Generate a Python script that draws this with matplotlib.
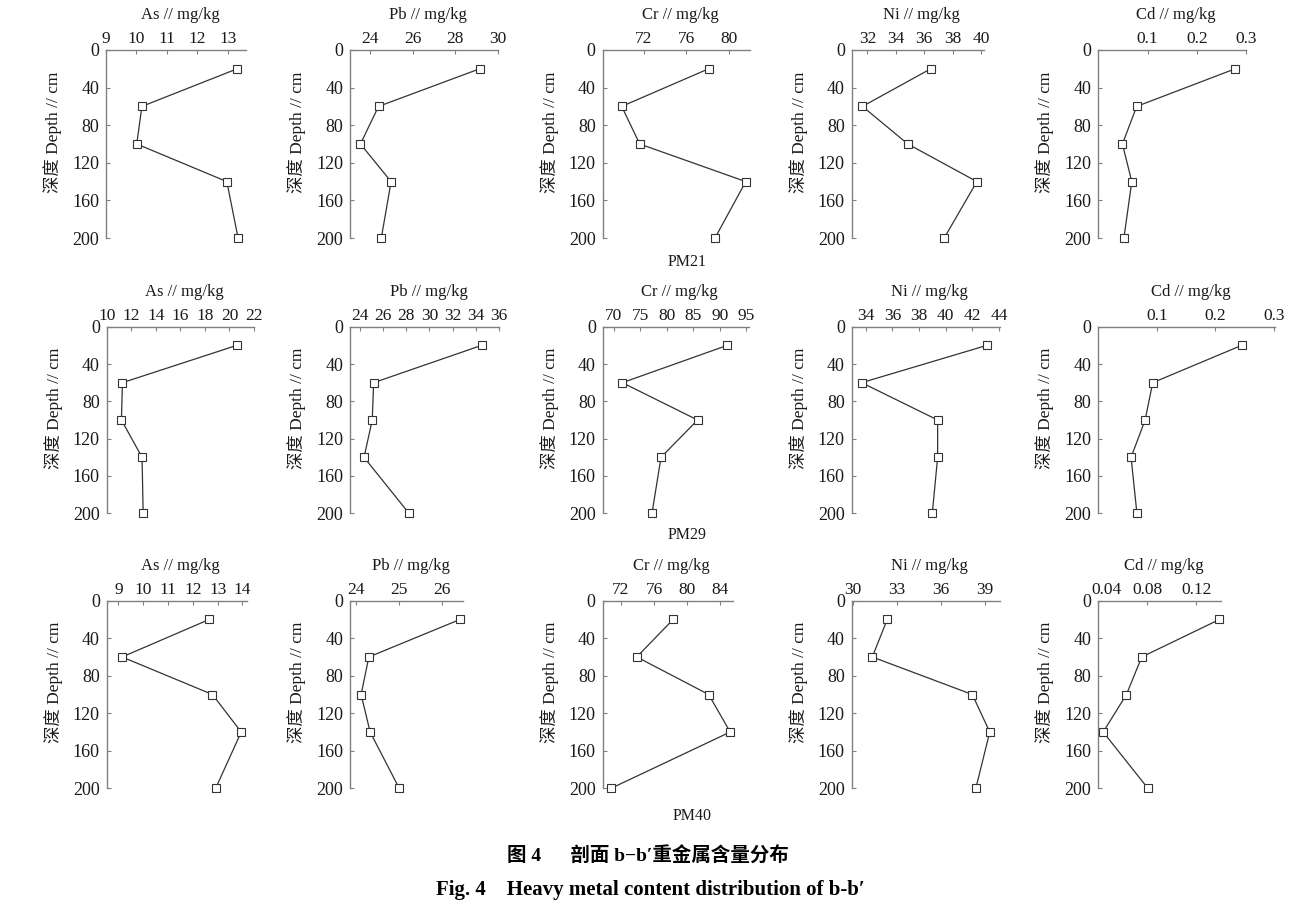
import matplotlib
matplotlib.use("Agg")
import matplotlib.pyplot as plt
import matplotlib.transforms as mtransforms

# 采样深度 cm
depth = [20, 60, 100, 140, 200]
depth_ticks = [0, 40, 80, 120, 160, 200]

elements = ["As", "Pb", "Cr", "Ni", "Cd"]
profiles = ["PM21", "PM29", "PM40"]

# 各剖面各元素含量 mg/kg
pm21_as = [13.31, 10.18, 10.01, 12.97, 13.34]
pm21_pb = [29.14, 24.39, 23.54, 24.98, 24.52]
pm21_cr = [78.1, 69.9, 71.6, 81.6, 78.7]
pm21_ni = [36.45, 31.65, 34.84, 39.7, 37.4]
pm21_cd = [0.278, 0.078, 0.049, 0.068, 0.052]

pm29_as = [20.6, 11.28, 11.2, 12.88, 12.97]
pm29_pb = [34.5, 25.18, 25.06, 24.35, 28.23]
pm29_cr = [91.4, 71.6, 85.8, 78.9, 77.2]
pm29_ni = [43.1, 33.7, 39.4, 39.4, 39.0]
pm29_cd = [0.245, 0.093, 0.080, 0.056, 0.066]

pm40_as = [12.66, 9.15, 12.79, 13.95, 12.92]
pm40_pb = [26.43, 24.30, 24.12, 24.33, 25.01]
pm40_cr = [78.3, 73.9, 82.6, 85.2, 70.8]
pm40_ni = [32.35, 31.33, 38.16, 39.35, 38.4]
pm40_cd = [0.139, 0.0755, 0.063, 0.044, 0.0805]

values = [
    [pm21_as, pm21_pb, pm21_cr, pm21_ni, pm21_cd],
    [pm29_as, pm29_pb, pm29_cr, pm29_ni, pm29_cd],
    [pm40_as, pm40_pb, pm40_cr, pm40_ni, pm40_cd],
]

# x 轴范围与刻度
xlims = [
    [(9, 13.6), (23.05, 29.92), (68.1, 82), (30.9, 40.2), (0, 0.3)],
    [(10, 22), (23.14, 36), (67.9, 95.5), (32.96, 44.08), (0, 0.302)],
    [(8.53, 14.17), (23.86, 26.5), (69.77, 85.54), (29.93, 40.05), (0.0405, 0.14)],
]
xticks = [
    [[9, 10, 11, 12, 13], [24, 26, 28, 30], [72, 76, 80], [32, 34, 36, 38, 40], [0.1, 0.2, 0.3]],
    [[10, 12, 14, 16, 18, 20, 22], [24, 26, 28, 30, 32, 34, 36], [70, 75, 80, 85, 90, 95],
     [34, 36, 38, 40, 42, 44], [0.1, 0.2, 0.3]],
    [[9, 10, 11, 12, 13, 14], [24, 25, 26], [72, 76, 80, 84], [30, 33, 36, 39], [0.04, 0.08, 0.12]],
]

# 版面：每个小图的像素框 (左, 右)，每行 (上, 下)
W, H = 1300, 914
row_y = [(50, 238), (326.7, 513.3), (600.7, 788.3)]
col_x = [
    [(106, 246), (350, 498), (602.6, 750), (851.8, 984), (1098.3, 1246)],
    [(106.7, 254), (350, 499), (602.7, 749), (851.8, 1000), (1098.3, 1275)],
    [(106.7, 246.7), (350, 463), (602.6, 733), (851.8, 1000), (1098.3, 1220.7)],
]
label_pos = [(687, 262), (687, 535), (692, 816)]

plt.rcParams['font.family'] = ['Liberation Serif', 'Noto Sans CJK SC']
gray = "#808080"
ink = "#333333"

fig = plt.figure(figsize=(13, 9.14), dpi=100)

for r in range(3):
    yt, yb = row_y[r]
    for c in range(5):
        xl, xr = col_x[r][c]
        w, h = xr - xl, yb - yt
        ax = fig.add_axes([xl / W, 1 - yb / H, w / W, h / H])
        ax.plot(values[r][c], depth, color=ink, lw=0.9, marker="s", ms=5.5,
                mfc="white", mec=ink, mew=0.8, clip_on=False, zorder=3)
        ax.set_xlim(xlims[r][c])
        ax.set_ylim(200, 0)
        ax.xaxis.tick_top()
        ax.set_xticks(xticks[r][c])
        ax.set_xticklabels(["%g" % t for t in xticks[r][c]])
        ax.set_yticks(depth_ticks)
        for s in ["right", "bottom"]:
            ax.spines[s].set_visible(False)
        for s in ["left", "top"]:
            ax.spines[s].set_color(gray)
            ax.spines[s].set_linewidth(1.0)
        ax.tick_params(direction="in", length=3, width=0.8, color=gray,
                       labelcolor="#1a1a1a")
        ax.tick_params(axis="x", pad=2, labelsize=12.5)
        ax.tick_params(axis="y", pad=5, labelsize=13)
        # 第一个 x 刻度标签紧贴 y 轴的 0，稍微右移
        if xticks[r][c][0] - xlims[r][c][0] < 0.02 * (xlims[r][c][1] - xlims[r][c][0]) \
                and r == 2 and c == 4:
            lab = ax.get_xticklabels()[0]
            lab.set_transform(lab.get_transform() +
                              mtransforms.ScaledTranslation(8 / 100, 0, fig.dpi_scale_trans))
        ax.text(0.5 + 4 / w, 1 + 35 / h, f"{elements[c]} // mg/kg", fontsize=12,
                ha="center", va="center", transform=ax.transAxes, color="#1a1a1a")
        ax.set_ylabel("深度 Depth // cm", fontsize=12.5, color="#1a1a1a")
        ax.yaxis.set_label_coords(-44 / w, 1 - 82 / h)
    lx, ly = label_pos[r]
    fig.text(lx / W, 1 - ly / H, profiles[r], fontsize=11.5, ha="center", va="center",
             color="#1a1a1a")

fig.text(648 / W, 1 - 856.7 / H, "图 4　  剖面 b−b′重金属含量分布", fontsize=14,
         weight="bold", ha="center", va="center")
fig.text(650 / W, 1 - 890 / H, "Fig. 4    Heavy metal content distribution of b-b′",
         fontsize=15, weight="bold", ha="center", va="center")

fig.savefig("out.png", dpi=100, facecolor="white")
